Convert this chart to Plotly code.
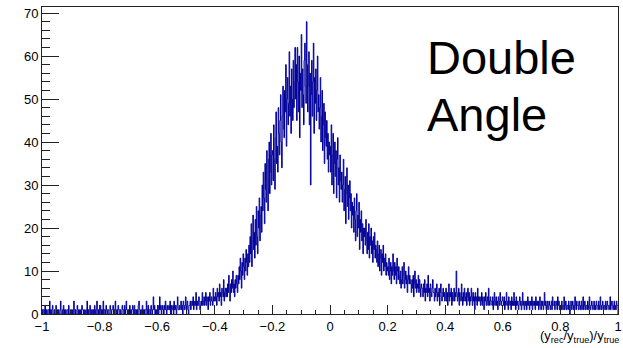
import numpy as np
import plotly.graph_objects as go

# Histogram bin contents, 1000 bins over [-1, 1] in 10 segments of 0.2
seg_m100_m080 = [1,0,1,1,0,2,0,1,0,0,1,1,0,3,0,1,0,1,2,0,
                 0,1,0,0,2,1,1,0,1,0,0,1,3,0,0,1,0,2,1,0,
                 1,0,0,1,1,0,2,0,0,1,0,1,1,0,0,3,1,0,1,0,
                 0,2,1,0,1,0,0,1,0,2,1,1,0,0,1,0,0,1,3,0,
                 1,0,1,2,0,0,1,1,0,1,0,2,1,0,0,3,1,0,1,0]
seg_m080_m060 = [1,2,0,1,0,1,3,0,1,1,0,2,1,0,1,1,0,0,2,1,
                 0,1,1,2,0,1,0,3,1,0,1,0,2,1,1,0,1,0,0,2,
                 1,1,0,2,0,1,3,1,0,1,1,0,2,0,1,0,1,2,1,0,
                 2,0,1,1,0,1,0,2,3,1,0,1,1,0,2,1,0,1,0,1,
                 1,3,0,1,2,0,1,1,0,2,1,0,1,4,1,2,0,1,1,0]
seg_m060_m040 = [1,2,0,1,4,1,2,0,1,2,1,0,2,1,3,1,0,2,1,1,
                 2,1,3,0,2,1,1,2,0,3,1,2,1,0,2,4,1,1,2,1,
                 2,3,1,2,0,3,2,1,2,4,1,2,3,1,0,2,2,3,1,2,
                 3,2,4,1,2,3,2,5,1,3,2,2,4,3,1,2,3,2,5,2,
                 3,4,2,3,5,2,4,3,1,4,3,5,2,3,4,3,2,6,3,4]
seg_m040_m020 = [3,5,4,2,6,4,5,3,7,4,5,2,6,5,4,8,3,5,6,4,
                 6,4,7,5,9,6,3,7,5,8,6,10,5,7,4,8,6,9,7,5,
                 9,7,11,8,13,10,6,12,9,14,11,8,13,10,15,12,9,14,11,16,
                 12,18,14,21,11,17,23,15,19,13,22,16,25,18,14,24,20,27,17,23,
                 25,19,30,24,33,27,21,35,29,26,38,31,24,36,40,28,33,42,30,37]
seg_m020_p000 = [38,31,44,36,29,41,47,35,39,33,48,42,37,45,51,40,34,46,53,43,
                 41,52,47,58,39,50,55,44,49,61,46,53,42,57,50,45,59,48,54,62,
                 50,58,45,62,54,47,60,41,56,52,65,48,57,51,44,59,63,53,49,68,
                 58,47,53,61,44,56,30,51,59,46,54,63,42,55,49,57,45,52,60,47,
                 51,43,48,55,40,46,52,38,44,49,35,47,41,39,45,36,42,33,40,37]
seg_p000_p020 = [39,33,44,30,37,42,28,35,40,32,38,27,36,41,30,34,26,37,31,29,
                 33,26,30,36,24,29,32,21,28,34,25,30,22,27,31,24,28,20,26,23,
                 25,19,27,22,17,24,28,18,23,20,26,15,22,19,24,17,21,14,20,18,
                 20,16,22,17,14,19,15,21,13,18,16,20,14,17,12,18,15,19,13,16,
                 15,12,17,11,14,16,10,13,15,9,14,12,16,10,13,11,14,9,12,10]
seg_p020_p040 = [11,9,13,8,10,12,7,11,9,14,10,8,12,9,11,7,13,10,8,11,
                 9,7,10,6,8,11,7,9,12,6,8,10,7,9,5,8,11,7,9,8,
                 7,5,8,6,9,4,7,10,6,8,5,7,6,9,5,8,6,4,7,6,
                 6,4,7,5,8,3,6,5,7,4,9,5,6,3,7,5,4,6,8,5,
                 5,3,6,4,5,7,3,5,4,6,2,5,7,4,3,5,6,4,5,3]
seg_p040_p060 = [4,6,3,5,2,4,7,3,5,4,6,2,5,3,4,6,3,5,4,10,
                 5,3,4,6,2,5,4,3,7,4,2,5,3,6,4,3,5,2,4,6,
                 3,5,2,4,3,6,4,2,5,3,4,1,5,3,4,2,6,3,4,3,
                 4,2,3,5,2,4,3,1,4,3,5,2,3,4,2,6,3,2,4,3,
                 3,2,4,1,3,5,2,3,4,2,3,1,4,3,2,5,3,2,3,4]
seg_p060_p080 = [3,2,4,1,3,2,5,3,2,1,4,3,2,3,1,4,2,3,2,5,
                 2,3,1,4,2,3,2,1,3,4,2,3,1,2,5,3,2,1,3,2,
                 3,1,2,4,2,3,1,2,3,2,4,1,3,2,2,3,1,4,2,3,
                 2,3,1,2,4,2,1,3,2,3,1,2,5,2,3,1,2,3,1,2,
                 3,2,1,2,3,1,4,2,2,3,1,2,3,2,1,4,2,3,1,2]
seg_p080_p100 = [2,1,3,2,1,2,4,1,2,3,1,2,2,1,3,2,0,2,3,1,
                 2,3,1,2,1,4,2,1,3,2,2,1,3,2,1,2,3,1,2,4,
                 1,2,3,1,2,2,1,3,2,1,4,2,1,2,3,2,1,2,3,1,
                 2,1,3,2,2,1,3,2,1,4,2,1,2,3,1,2,2,1,3,2,
                 1,3,2,2,1,2,4,1,2,3,2,1,2,3,1,2,1,3,2,2]

x_min, x_max = -1.0, 1.0
x_tick_vals = [-1, -0.8, -0.6, -0.4, -0.2, 0, 0.2, 0.4, 0.6, 0.8, 1]
y_tick_vals = [0, 10, 20, 30, 40, 50, 60, 70]
label_lines = ["Double", "Angle"]
x_title = "(y<sub>rec</sub>/y<sub>true</sub>)/y<sub>true</sub>"

counts = (seg_m100_m080 + seg_m080_m060 + seg_m060_m040 + seg_m040_m020 +
          seg_m020_p000 + seg_p000_p020 + seg_p020_p040 + seg_p040_p060 +
          seg_p060_p080 + seg_p080_p100)
edges = np.linspace(x_min, x_max, len(counts) + 1)

xs = [edges[0]] + list(edges) + [edges[-1]]
ys = [0] + list(counts) + [counts[-1], 0]

FONT = "Liberation Sans, Arial, Helvetica, sans-serif"
LINE = "#000099"
AX = "#222222"

fig = go.Figure()
fig.add_trace(go.Scatter(x=xs, y=ys, mode="lines", line=dict(color=LINE, width=1, shape="hv"),
                         hoverinfo="skip", showlegend=False))

ymax = max(counts) * 1.05

fig.update_layout(
    width=623, height=348, autosize=False,
    margin=dict(l=42, r=1, t=7, b=34, pad=0),
    paper_bgcolor="white", plot_bgcolor="white",
    font=dict(family=FONT, size=13, color="black"),
    xaxis=dict(range=[x_min, x_max], tickvals=x_tick_vals, ticks="inside", ticklen=9,
               tickwidth=1, tickcolor=AX, showgrid=False, zeroline=False,
               showline=True, linecolor=AX, linewidth=1, mirror=True,
               ticklabeloverflow="allow",
               tickfont=dict(family=FONT, size=13),
               minor=dict(dtick=0.05, tick0=-1, ticks="inside", ticklen=4, tickcolor=AX, showgrid=False)),
    yaxis=dict(range=[0, ymax], tickvals=y_tick_vals, ticks="inside", ticklen=17,
               tickwidth=1, tickcolor=AX, showgrid=False, zeroline=False,
               showline=True, linecolor=AX, linewidth=1, mirror=True,
               ticklabeloverflow="allow",
               tickfont=dict(family=FONT, size=13),
               minor=dict(dtick=2, tick0=0, ticks="inside", ticklen=8, tickcolor=AX, showgrid=False)),
)

fig.add_annotation(text=x_title, xref="paper", yref="paper", x=1.005, y=-0.108,
                   xanchor="right", yanchor="bottom", showarrow=False,
                   font=dict(family=FONT, size=13, color="black"))
fig.add_annotation(text=label_lines[0], xref="paper", yref="paper", x=0.665, y=0.835,
                   xanchor="left", yanchor="middle", showarrow=False,
                   font=dict(family=FONT, size=47, color="black"))
fig.add_annotation(text=label_lines[1], xref="paper", yref="paper", x=0.665, y=0.65,
                   xanchor="left", yanchor="middle", showarrow=False,
                   font=dict(family=FONT, size=47, color="black"))

fig.write_html("out.html")
